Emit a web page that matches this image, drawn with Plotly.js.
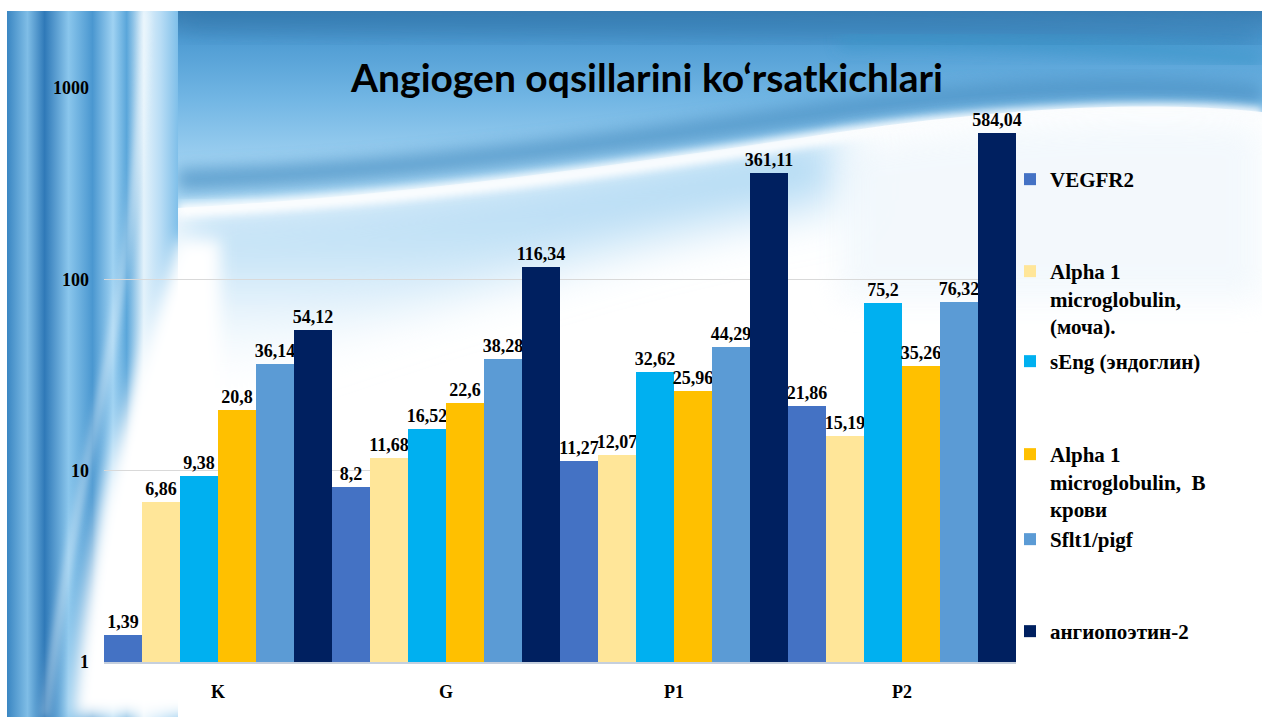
<!DOCTYPE html>
<html>
<head>
<meta charset="utf-8">
<script src="https://cdn.plot.ly/plotly-3.0.1.min.js"></script>
<style>
  html, body { margin:0; padding:0; background:#ffffff; }
  #wrap { position:relative; width:1262px; height:717px; overflow:hidden; background:#ffffff; }
  #bg { position:absolute; left:0; top:0; }
  #chart { position:absolute; left:0; top:0; width:1262px; height:717px; }
</style>
</head>
<body>
<div id="wrap">
<svg id="bg" width="1262" height="717" xmlns="http://www.w3.org/2000/svg">
  <defs>
    <linearGradient id="stripe" x1="0" y1="0" x2="1" y2="0">
      <stop offset="0" stop-color="#3a86c2"/>
      <stop offset="0.12" stop-color="#7fbde6"/>
      <stop offset="0.22" stop-color="#2f79b8"/>
      <stop offset="0.36" stop-color="#8ac6ec"/>
      <stop offset="0.5" stop-color="#4a97d0"/>
      <stop offset="0.62" stop-color="#9fd2f2"/>
      <stop offset="0.7" stop-color="#5aa6da"/>
      <stop offset="0.8" stop-color="#e3f2fb"/>
      <stop offset="0.9" stop-color="#b7dcf5"/>
      <stop offset="1" stop-color="#7fbfe9"/>
    </linearGradient>
    <linearGradient id="band" x1="0" y1="0" x2="0" y2="1">
      <stop offset="0" stop-color="#3b7fb4"/>
      <stop offset="0.15" stop-color="#4f9cd3"/>
      <stop offset="0.45" stop-color="#72b6e4"/>
      <stop offset="0.75" stop-color="#9ccff0"/>
      <stop offset="1" stop-color="#a9d7f3"/>
    </linearGradient>
    <linearGradient id="lower" x1="0" y1="0" x2="0" y2="1">
      <stop offset="0" stop-color="#9fd1f1" stop-opacity="1"/>
      <stop offset="0.5" stop-color="#bfe0f6" stop-opacity="0.8"/>
      <stop offset="1" stop-color="#ffffff" stop-opacity="0"/>
    </linearGradient>
    <filter id="blur8" x="-20%" y="-20%" width="140%" height="140%"><feGaussianBlur stdDeviation="8"/></filter>
    <filter id="blur4" x="-20%" y="-20%" width="140%" height="140%"><feGaussianBlur stdDeviation="4"/></filter>
    <filter id="blur15" x="-20%" y="-20%" width="140%" height="140%"><feGaussianBlur stdDeviation="15"/></filter>
    <filter id="blur25" x="-30%" y="-30%" width="160%" height="160%"><feGaussianBlur stdDeviation="25"/></filter>
  </defs>
  <path d="M178,205 C420,195 650,160 840,132 L840,200 C650,230 420,300 178,400 Z" fill="url(#lower)" filter="url(#blur25)"/>
  <path d="M178,11 H1262 V112 C1150,100 1000,108 840,132 C650,160 420,195 178,208 Z" fill="url(#band)"/>
  <path d="M178,15 C450,25 800,20 1262,40" stroke="#2f73a8" stroke-width="26" fill="none" opacity="0.55" filter="url(#blur15)"/>
  <path d="M840,40 C950,35 1100,45 1262,60" stroke="#3a95c8" stroke-width="18" fill="none" opacity="0.6" filter="url(#blur8)"/>
  <path d="M178,180 C420,172 650,138 840,110 C1000,88 1150,82 1262,95" stroke="#4a8fc2" stroke-width="22" fill="none" opacity="0.7" filter="url(#blur8)"/>
  <path d="M178,210 C420,200 650,165 840,135 C1000,112 1150,105 1262,115" stroke="#ffffff" stroke-width="14" fill="none" opacity="0.95" filter="url(#blur4)"/>
  <path d="M840,145 C1000,122 1150,115 1262,125 V300 H840 Z" fill="#eef6fc" opacity="0.7" filter="url(#blur15)"/>
  <rect x="7" y="11" width="171" height="706" fill="url(#stripe)"/>
  <path d="M178,240 C150,330 120,420 100,510 C85,590 75,660 72,717 H220 V240 Z" fill="#ffffff" filter="url(#blur8)"/>
  <path d="M145,11 C142,150 125,280 100,400 C75,520 55,630 45,717" stroke="#ffffff" stroke-width="5" fill="none" opacity="0.6" filter="url(#blur4)"/>
  <rect x="0" y="0" width="1262" height="11" fill="#ffffff"/>
  <rect x="0" y="0" width="7" height="717" fill="#ffffff"/>
</svg>
<div id="chart"></div>
</div>
<script>
var categories = ["K", "G", "P1", "P2"];
var seriesNames = [
  "VEGFR2",
  "Alpha 1<br>microglobulin,<br>(моча).",
  "sEng (эндоглин)",
  "Alpha 1<br>microglobulin,  B<br>крови",
  "Sflt1/pigf",
  "ангиопоэтин-2"
];
var vegfr2 = [1.39, 8.2, 11.27, 21.86];
var alpha1Urine = [6.86, 11.68, 12.07, 15.19];
var sEng = [9.38, 16.52, 32.62, 75.2];
var alpha1Blood = [20.8, 22.6, 25.96, 35.26];
var sflt1 = [36.14, 38.28, 44.29, 76.32];
var angiopoietin2 = [54.12, 116.34, 361.11, 584.04];
var yTicks = [1, 10, 100, 1000];

var seriesValues = [vegfr2, alpha1Urine, sEng, alpha1Blood, sflt1, angiopoietin2];
var colors = ["#4472C4", "#FFE699", "#00B0F0", "#FFC000", "#5B9BD5", "#002060"];
var legendTops = [159, 251, 341, 434, 519, 611];
var legendIds = ["legend", "legend2", "legend3", "legend4", "legend5", "legend6"];

var serif = "Liberation Serif, Times New Roman, serif";

var traces = seriesValues.map(function (vals, i) {
  return {
    type: "bar",
    name: seriesNames[i],
    x: categories,
    y: vals,
    marker: { color: colors[i], line: { width: 0 } },
    text: vals.map(function (v) { return String(v).replace(".", ","); }),
    textposition: "outside",
    constraintext: "none",
    cliponaxis: false,
    textfont: { family: serif, size: 18, color: "#000000", weight: "bold" },
    hoverinfo: "skip",
    legend: legendIds[i]
  };
});

var layout = {
  width: 1262,
  height: 717,
  paper_bgcolor: "rgba(0,0,0,0)",
  plot_bgcolor: "rgba(0,0,0,0)",
  margin: { l: 104, r: 246, t: 88, b: 55, autoexpand: false },
  barmode: "group",
  bargap: 0,
  bargroupgap: 0,
  title: {
    text: "Angiogen oqsillarini ko‘rsatkichlari",
    font: { family: "Lato, Open Sans, sans-serif", size: 39, color: "#000000", weight: "bold" },
    x: 647 / 1262, xanchor: "center", xref: "container",
    y: 1 - 78 / 717, yanchor: "middle", yref: "container"
  },
  xaxis: {
    type: "category",
    showgrid: false,
    showline: true,
    linecolor: "#c5cfdd",
    linewidth: 2,
    ticks: "",
    ticklabelstandoff: 12,
    tickfont: { family: serif, size: 18, color: "#000000", weight: "bold" }
  },
  yaxis: {
    type: "log",
    range: [0, 3],
    tickvals: yTicks,
    ticktext: yTicks.map(String),
    showgrid: true,
    gridcolor: "#d9d9d9",
    gridwidth: 1,
    showline: false,
    zeroline: false,
    ticks: "",
    ticklabelstandoff: 14,
    tickfont: { family: serif, size: 18, color: "#000000", weight: "bold" }
  },
  showlegend: true
};

legendIds.forEach(function (id, i) {
  layout[id] = {
    xref: "container", yref: "container",
    x: 1010 / 1262, xanchor: "left",
    y: 1 - legendTops[i] / 717, yanchor: "top",
    bgcolor: "rgba(0,0,0,0)",
    borderwidth: 0,
    valign: "top",
    itemclick: false, itemdoubleclick: false,
    font: { family: serif, size: 21, color: "#000000", weight: "bold" }
  };
});

Plotly.newPlot("chart", traces, layout, { displayModeBar: false, staticPlot: true });
</script>
</body>
</html>
